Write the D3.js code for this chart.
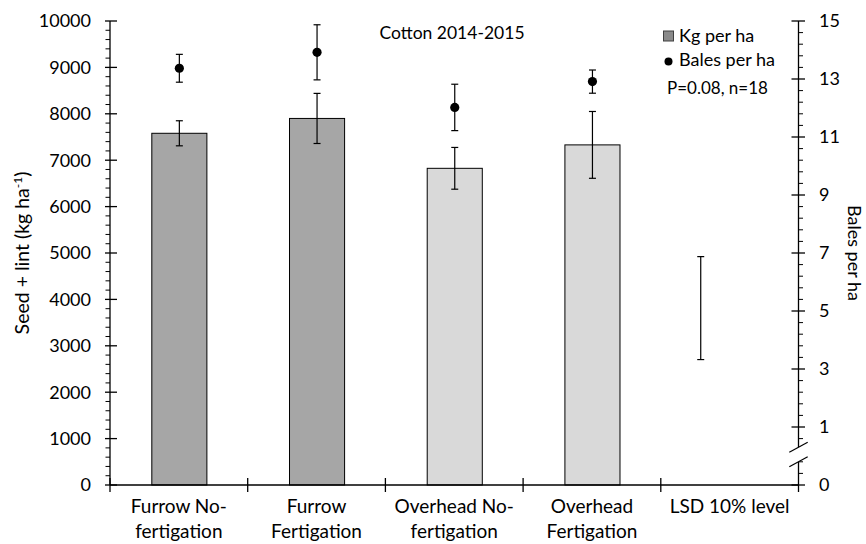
<!DOCTYPE html>
<html><head><meta charset="utf-8">
<script src="https://cdn.jsdelivr.net/npm/d3@7"></script>
<style>body{margin:0;background:#fff}svg{display:block}text{font-family:Lato,"Open Sans",sans-serif;fill:#000}</style>
</head><body><svg id="c" width="866" height="544"></svg>
<script>
// ---- data ----
const categories = ["Furrow No-fertigation","Furrow Fertigation","Overhead No-fertigation","Overhead Fertigation","LSD 10% level"];
const categoryLines = [["Furrow No-","fertigation"],["Furrow","Fertigation"],["Overhead No-","fertigation"],["Overhead","Fertigation"],["LSD 10% level"]];
const kgPerHa = [7580, 7900, 6825, 7330];
const kgErr = [270, 540, 450, 720];
const barColors = ["#a6a6a6","#a6a6a6","#d9d9d9","#d9d9d9"];
const balesPerHa = [13.37, 13.92, 12.02, 12.91];
const balesErr = [0.48, 0.95, 0.80, 0.40];
const lsdCenter = 5.1, lsdValue = 3.55; // bales scale
const kgTicks = [0,1000,2000,3000,4000,5000,6000,7000,8000,9000,10000];
const balesTicks = [-1,1,3,5,7,9,11,13,15];
const balesTickLabels = ["0","1","3","5","7","9","11","13","15"];
const breakValues = [0.3, -0.2];

const svg = d3.select("#c");
const L = 110, R = 798.5, T = 21, B = 485;
const x = d3.scaleBand().domain(categories).range([L, R]).paddingInner(0).paddingOuter(0);
const y = d3.scaleLinear().domain([0, 10000]).range([B, T]);
const y2 = d3.scaleLinear().domain([-1, 15]).range([B, T]);
const bw = x.bandwidth()*0.4;
const cx = c => x(c) + x.bandwidth()/2;

// bars
const data = kgPerHa.map((v,i)=>({c:categories[i], v, e:kgErr[i], col:barColors[i], b:balesPerHa[i], be:balesErr[i]}));
svg.append("g").selectAll("rect").data(data).join("rect")
  .attr("x", d=>cx(d.c)-bw/2+0.5).attr("width", bw).attr("y", d=>y(d.v)).attr("height", d=>y(0)-y(d.v))
  .attr("fill", d=>d.col).attr("stroke","#000").attr("stroke-width",1);

function errBar(g, xx, y1, y0, cap){
  g.append("line").attr("x1",xx).attr("x2",xx).attr("y1",y1).attr("y2",y0).attr("stroke","#000").attr("stroke-width",1.2);
  [y1,y0].forEach(yy=>g.append("line").attr("x1",xx-cap).attr("x2",xx+cap).attr("y1",yy).attr("y2",yy).attr("stroke","#000").attr("stroke-width",1.2));
}
const eg = svg.append("g");
data.forEach(d=>{
  errBar(eg, cx(d.c)+0.5, y(d.v+d.e), y(d.v-d.e), 3.5);
  errBar(eg, cx(d.c)+0.5, y2(d.b+d.be), y2(d.b-d.be), 3.5);
});
svg.append("g").selectAll("circle").data(data).join("circle")
  .attr("cx", d=>cx(d.c)+0.5).attr("cy", d=>y2(d.b)).attr("r",4.6).attr("fill","#000");
// LSD
const lsdX = x(categories[4]) + x.bandwidth()*0.29;
errBar(eg, lsdX, y2(lsdCenter+lsdValue/2), y2(lsdCenter-lsdValue/2), 3.5);

// left axis
const ax = svg.append("g").attr("stroke","#000");
ax.append("line").attr("x1",L).attr("x2",L).attr("y1",T).attr("y2",B).attr("stroke-width",1.3);
d3.range(0,10001,200).forEach(v=>{
  if (v%1000===0) ax.append("line").attr("x1",L-5).attr("x2",L+7).attr("y1",y(v)).attr("y2",y(v)).attr("stroke-width",1.3);
  else ax.append("line").attr("x1",L-4.5).attr("x2",L).attr("y1",y(v)).attr("y2",y(v)).attr("stroke-width",1);
});
svg.append("g").selectAll("text").data(kgTicks).join("text")
  .attr("x", 91).attr("y", d=>y(d)).attr("dy","0.36em").attr("text-anchor","end").style("font-size","18px").text(d=>d);

// right axis
const rx = svg.append("g").attr("stroke","#000");
rx.append("line").attr("x1",R).attr("x2",R).attr("y1",T).attr("y2",B).attr("stroke-width",1.3);
for (let k=0;k<=40;k++){
  const v = -1 + k*0.4;
  if (k%5===0) rx.append("line").attr("x1",R-7).attr("x2",R+6.5).attr("y1",y2(v)).attr("y2",y2(v)).attr("stroke-width",1.3);
  else rx.append("line").attr("x1",R).attr("x2",R+4.5).attr("y1",y2(v)).attr("y2",y2(v)).attr("stroke-width",1);
}
svg.append("g").selectAll("text").data(balesTicks).join("text")
  .attr("x", 819).attr("y", d=>y2(d)).attr("dy","0.36em").attr("text-anchor","start").style("font-size","18px").text((d,i)=>balesTickLabels[i]);
// break marks
const bu = y2(breakValues[0]), bl = y2(breakValues[1]);
svg.append("polygon").attr("points",[[R-9.2,bu+5],[R+9.2,bu-5],[R+9.2,bl-5],[R-9.2,bl+5]].map(p=>p.join(",")).join(" ")).attr("fill","#fff");
breakValues.forEach(v=>{
  const yy = y2(v);
  svg.append("line").attr("x1",R-9.2).attr("x2",R+9.2).attr("y1",yy+5).attr("y2",yy-5).attr("stroke","#000").attr("stroke-width",1.2);
});

// x axis
const xa = svg.append("g").attr("stroke","#000");
xa.append("line").attr("x1",L).attr("x2",R).attr("y1",B).attr("y2",B).attr("stroke-width",1.3);
categories.forEach(c=>{
  xa.append("line").attr("x1",x(c)).attr("x2",x(c)).attr("y1",B-7).attr("y2",B+7).attr("stroke-width",1.3);
});
xa.append("line").attr("x1",R).attr("x2",R).attr("y1",B).attr("y2",B+7).attr("stroke-width",1.3);
const xl = svg.append("g");
categories.forEach((c,i)=>{
  const t = xl.append("text").attr("text-anchor","middle").style("font-size","19px");
  categoryLines[i].forEach((s,j)=>t.append("tspan").attr("x",cx(c)).attr("y",513+j*24.5).text(s));
});

// titles
svg.append("text").attr("x",452).attr("y",39).attr("text-anchor","middle").style("font-size","17.5px").text("Cotton 2014-2015");
const yt = svg.append("text").attr("transform",`translate(29,${(T+B)/2}) rotate(-90)`).attr("text-anchor","middle").style("font-size","19.5px");
yt.append("tspan").text("Seed + lint (kg ha");
yt.append("tspan").attr("dy","-7").style("font-size","12px").text("-1");
yt.append("tspan").attr("dy","7").text(")");
svg.append("text").attr("transform",`translate(848,${(T+B)/2}) rotate(90)`).attr("text-anchor","middle").style("font-size","18px").text("Bales per ha");

// legend
svg.append("rect").attr("x",663.5).attr("y",31).attr("width",10).attr("height",10).attr("fill","#8a8a8a").attr("stroke","#404040");
svg.append("text").attr("x",679).attr("y",36).attr("dy","0.35em").style("font-size","18px").text("Kg per ha");
svg.append("circle").attr("cx",668.5).attr("cy",61.5).attr("r",4).attr("fill","#000");
svg.append("text").attr("x",679).attr("y",60).attr("dy","0.35em").style("font-size","18px").text("Bales per ha");
svg.append("text").attr("x",667).attr("y",88).attr("dy","0.35em").style("font-size","17px").text("P=0.08, n=18");
</script></body></html>
